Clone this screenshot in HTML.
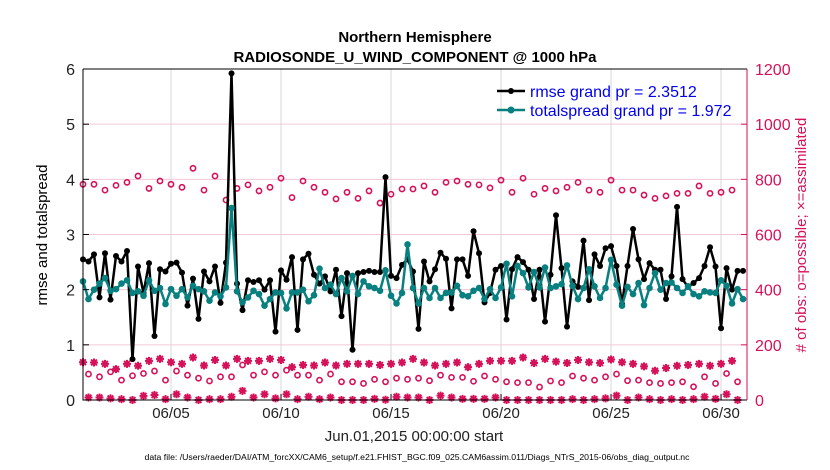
<!DOCTYPE html>
<html><head><meta charset="utf-8"><style>
body{margin:0;background:#fff;}
svg{display:block;font-family:"Liberation Sans",sans-serif;}
</style></head><body>
<svg id="chart" width="830" height="470" viewBox="0 0 830 470" xmlns="http://www.w3.org/2000/svg">
<rect width="830" height="470" fill="#fff"/>
<text x="415" y="42" text-anchor="middle" font-size="15" font-weight="bold">Northern Hemisphere</text>
<text x="415" y="62" text-anchor="middle" font-size="15" font-weight="bold">RADIOSONDE_U_WIND_COMPONENT @ 1000 hPa</text>
<g id="grid"></g>
<g id="marks"></g>
<g id="axes"></g>
<text transform="translate(47,235) rotate(-90)" text-anchor="middle" font-size="15">rmse and totalspread</text>
<text transform="translate(806,235) rotate(-90)" text-anchor="middle" font-size="15" fill="#d6115a"># of obs: o=possible; ×=assimilated</text>
<text x="414" y="441" text-anchor="middle" font-size="15" fill="#222">Jun.01,2015 00:00:00 start</text>
<text x="417" y="460" text-anchor="middle" font-size="8.7" fill="#000">data file: /Users/raeder/DAI/ATM_forcXX/CAM6_setup/f.e21.FHIST_BGC.f09_025.CAM6assim.011/Diags_NTrS_2015-06/obs_diag_output.nc</text>
<g>
<line x1="497" y1="91" x2="525" y2="91" stroke="#000" stroke-width="2.5"/><circle cx="511" cy="91" r="3" fill="#000"/>
<text x="530" y="97" font-size="16" fill="#0000ee">rmse grand pr = 2.3512</text>
<line x1="497" y1="110" x2="525" y2="110" stroke="#088080" stroke-width="2.5"/><circle cx="511" cy="110" r="3.5" fill="#088080"/>
<text x="530" y="116" font-size="16" fill="#0000ee">totalspread grand pr = 1.972</text>
</g>
</svg>
<script>
const rmse=[2.55,2.51,2.64,1.86,2.66,1.82,2.61,2.51,2.70,0.74,2.42,1.94,2.48,1.16,2.37,2.33,2.47,2.49,2.31,1.71,2.20,1.47,2.33,2.15,2.42,1.76,2.49,5.92,2.11,1.63,2.17,2.14,2.17,2.0,2.17,1.24,2.35,2.18,2.59,1.27,2.55,2.65,2.27,2.11,2.24,1.97,2.36,1.52,2.30,0.91,2.30,2.32,2.34,2.32,2.32,4.04,2.25,2.21,2.45,2.55,2.33,1.29,2.51,2.15,2.37,2.67,2.56,1.66,2.55,2.55,2.25,3.06,2.66,1.77,1.94,2.36,2.43,1.46,2.37,2.59,2.5,2.36,1.83,2.36,1.42,2.27,3.35,2.39,1.33,2.15,2.05,2.89,1.81,2.64,2.43,2.75,2.79,2.43,1.74,2.43,3.10,2.55,2.19,2.48,2.36,2.36,1.83,2.24,3.50,2.19,2.05,2.12,2.21,2.43,2.77,2.42,1.30,2.39,2.0,2.34,2.34];
const spread=[2.15,1.83,2.0,2.11,2.21,1.98,2.01,2.11,2.17,1.94,1.97,1.89,2.17,1.98,2.03,1.74,2.01,1.89,2.01,1.86,2.07,2.01,1.97,1.80,1.95,1.88,2.04,3.48,1.97,1.77,1.86,1.98,1.92,1.71,1.83,1.95,1.94,1.66,1.95,1.95,2.0,1.79,1.90,2.38,2.03,2.09,1.92,2.21,1.97,2.25,1.92,2.15,2.06,2.03,1.98,2.35,1.89,1.75,1.94,2.82,2.03,1.75,2.03,1.85,2.03,1.85,1.94,1.95,2.07,1.90,1.88,1.98,2.03,1.83,2.01,1.85,2.04,2.47,1.88,2.43,2.3,2.04,2.32,2.04,2.40,2.03,2.06,2.10,2.44,2.07,1.83,2.03,2.37,2.06,1.85,2.03,2.54,2.09,1.71,2.05,1.92,2.12,1.72,2.03,2.30,2.0,2.12,2.13,2.03,1.94,2.06,1.92,1.88,1.97,1.95,1.94,2.17,2.07,1.75,2.01,1.83];
const possibleA=[782,782,761,778,789,812,767,794,782,771,840,761,812,725,767,780,758,771,804,734,794,771,753,729,753,731,758,714,746,765,765,776,753,789,794,782,780,769,797,753,804,746,767,758,771,789,761,753,797,761,761,743,731,740,749,749,776,749,753,761];
const assimA=[137,136,131,112,131,124,142,149,137,131,154,125,145,125,149,142,142,149,145,119,127,125,136,125,131,131,131,127,131,136,149,136,125,131,136,119,131,142,142,142,154,134,149,139,134,145,137,134,147,137,131,122,106,116,124,127,131,124,131,142];
const possibleB=[94,84,102,72,88,96,105,72,105,90,79,69,84,84,127,90,102,90,108,90,90,72,94,66,66,60,75,66,79,75,79,70,90,82,82,68,87,75,66,63,63,47,69,63,87,79,72,84,94,70,72,63,60,63,66,48,84,60,96,66];
const assimB=[9,9,6,3,0,15,18,3,21,9,0,3,3,12,33,9,21,6,21,3,12,3,9,0,0,0,4,1,12,9,9,0,16,9,4,4,4,9,0,0,0,0,0,0,3,0,3,6,16,0,9,3,0,3,0,3,12,4,21,0];
const xTickDays=[4,9,14,19,24,29];
const xTickLabels=['06/05','06/10','06/15','06/20','06/25','06/30'];
const leftTicks=[0,1,2,3,4,5,6];
const rightTicks=[0,200,400,600,800,1000,1200];

const L=83,R=747,T=69,B=400,XMAX=30.18;
const NS='http://www.w3.org/2000/svg';
const xs=t=>L+(t/XMAX)*(R-L);
const yl=v=>B-(v/6)*(B-T);
const yr=v=>B-(v/1200)*(B-T);
const PINK='#d6115a',TEAL='#088080';
function mk(tag,attrs,parent){const e=document.createElementNS(NS,tag);for(const k in attrs)e.setAttribute(k,attrs[k]);parent.appendChild(e);return e;}
const grid=document.getElementById('grid'),marks=document.getElementById('marks'),axes=document.getElementById('axes');

xTickDays.forEach((d,i)=>{
  const g=mk('line',{x1:xs(d),x2:xs(d),y1:T,y2:B,stroke:'#d8d8d8','stroke-width':1},grid);
  
  
  const tk=mk('line',{x1:xs(d),x2:xs(d),y1:B,y2:B-6,stroke:'#000'},axes);
  
  
  const tx=mk('text',{x:xs(d),y:418,'text-anchor':'middle','font-size':15,fill:'#222'},axes);
  tx.textContent=xTickLabels[i];
  
  
});
rightTicks.forEach(v=>{
  if(v>0&&v<1200){const g=mk('line',{x1:L,x2:R,y1:yr(v),y2:yr(v),stroke:'#f4c6d6','stroke-width':1},grid);
  
  }
  const tk=mk('line',{x1:R,x2:R-6,y1:yr(v),y2:yr(v),stroke:PINK},axes);
  
  
  const tx=mk('text',{x:R+8,y:yr(v)+6,'font-size':16,fill:PINK},axes);
  tx.textContent=v;
  
  
});
leftTicks.forEach(v=>{
  const tk=mk('line',{x1:L,x2:L+6,y1:yl(v),y2:yl(v),stroke:'#000'},axes);
  
  
  const tx=mk('text',{x:L-8,y:yl(v)+6,'text-anchor':'end','font-size':16,fill:'#222'},axes);
  tx.textContent=v;
  
  
});
const frame=mk('path',{d:`M${L},${T}H${R}M${L},${T}V${B}H${R}`,fill:'none',stroke:'#000','stroke-width':1},axes);


const ra=mk('line',{x1:R,x2:R,y1:T,y2:B,stroke:PINK,'stroke-width':1},axes);



function star(cx,cy,name){
  const s=4,d=2.9;
  const p=mk('path',{d:`M${cx-s},${cy}H${cx+s}M${cx},${cy-s}V${cy+s}M${cx-d},${cy-d}L${cx+d},${cy+d}M${cx-d},${cy+d}L${cx+d},${cy-d}`,stroke:PINK,'stroke-width':2},marks);
  
  
}
possibleA.forEach((v,k)=>{const c=mk('circle',{cx:xs(k*0.5),cy:yr(v),r:2.6,fill:'none',stroke:PINK,'stroke-width':1.6},marks);
  
  });
possibleB.forEach((v,k)=>{const c=mk('circle',{cx:xs(0.25+k*0.5),cy:yr(v),r:2.6,fill:'none',stroke:PINK,'stroke-width':1.6},marks);
  
  });
assimA.forEach((v,k)=>star(xs(k*0.5),yr(v),'assimilated-obs-point'));
assimB.forEach((v,k)=>star(xs(0.25+k*0.5),yr(Math.max(v,0)),'assimilated-obs-point'));

function series(arr,color,r,name){
  const d=arr.map((v,i)=>(i?'L':'M')+xs(i*0.25).toFixed(1)+','+yl(v).toFixed(1)).join('');
  const p=mk('path',{d:d,fill:'none',stroke:color,'stroke-width':2.5,'stroke-linejoin':'round'},marks);
  
  
  arr.forEach((v,i)=>{const c=mk('circle',{cx:xs(i*0.25),cy:yl(v),r:r,fill:color},marks);
    
    });
}
series(rmse,'#000',3,'rmse');
series(spread,TEAL,3.3,'totalspread');
</script>
</body></html>
